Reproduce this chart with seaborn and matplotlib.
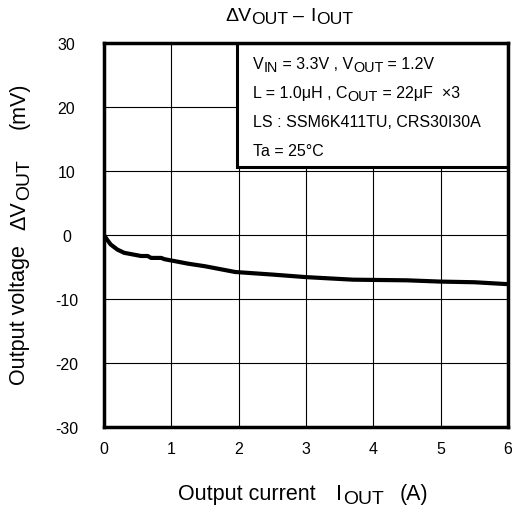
import seaborn as sns
import pandas as pd
import matplotlib
matplotlib.use('Agg')
import matplotlib.pyplot as plt
from matplotlib.patches import Rectangle

# values
current = [0, 0.05, 0.1, 0.2, 0.3, 0.45, 0.55, 0.65, 0.7, 0.85, 0.9,
           1.0, 1.25, 1.5, 1.75, 1.95, 2.5, 3.0, 3.7, 4.5, 5.0, 5.5, 6.0]
dv_out = [0, -0.8, -1.5, -2.3, -2.8, -3.1, -3.3, -3.3, -3.6, -3.6, -3.8,
          -4.0, -4.5, -4.9, -5.4, -5.8, -6.2, -6.6, -7.0, -7.1, -7.3, -7.4, -7.7]

x_ticks = [0, 1, 2, 3, 4, 5, 6]
y_ticks = [-30, -20, -10, 0, 10, 20, 30]

# text pieces: (text, is_subscript, gap before in px)
title_parts = [('ΔV', False, 0), ('OUT', True, 0), ('–', False, 5),
               ('I', False, 6), ('OUT', True, 1)]
xlabel_parts = [('Output current', False, 0), ('I', False, 20),
                ('OUT', True, 1), ('(A)', False, 16)]
ylabel_parts = [('Output voltage', False, 0), ('ΔV', False, 15),
                ('OUT', True, 1), ('(mV)', False, 30)]
cond_lines = [
    [('V', False, 0), ('IN', True, 0), (' = 3.3V , V', False, 0),
     ('OUT', True, 0), (' = 1.2V', False, 0)],
    [('L = 1.0μH , C', False, 0), ('OUT', True, 0),
     (' = 22μF  ×3', False, 0)],
    [('LS : SSM6K411TU, CRS30I30A', False, 0)],
    [('Ta = 25°C', False, 0)],
]

sns.set_theme(style='white')
plt.rcParams['font.family'] = ['Liberation Sans', 'DejaVu Sans']
plt.rcParams['axes.unicode_minus'] = False

fig = plt.figure(figsize=(5.12, 5.10), dpi=100)
ax = fig.add_axes([0.203, 0.161, 0.789, 0.753])


def chain(parts, x0, y0, size, drop, rotate=False, zorder=6):
    """lay text pieces one after the other, subscripts smaller and lowered"""
    prev = None
    for txt, sub, gap in parts:
        fs = size * 0.9 if sub else size
        d = drop if sub else 0
        if rotate:
            if prev is None:
                xy, xyc = (x0, y0), 'figure pixels'
            else:
                xy, xyc = (x0, 1.0), ('figure pixels', prev)
            off = (d, gap)
        else:
            if prev is None:
                xy, xyc = (x0, y0), 'figure pixels'
            else:
                xy, xyc = (1.0, y0), (prev, 'figure pixels')
            off = (gap, -d)
        prev = ax.annotate(txt, xy=xy, xycoords=xyc, xytext=off,
                           textcoords='offset pixels', fontsize=fs,
                           ha='left', va='baseline', color='black',
                           rotation=90 if rotate else 0,
                           rotation_mode='anchor', annotation_clip=False,
                           zorder=zorder)


df = pd.DataFrame({'I': current, 'dV': dv_out})
sns.lineplot(data=df, x='I', y='dV', color='black', lw=3, ax=ax, zorder=3)

ax.set_xlim(0, 6)
ax.set_ylim(-30, 30)
ax.set_xticks(x_ticks)
ax.set_yticks(y_ticks)
ax.grid(True, color='black', lw=0.8)
for sp in ax.spines.values():
    sp.set_color('black')
    sp.set_linewidth(2.5)
    sp.set_zorder(5)

ax.tick_params(axis='x', length=0, pad=10, labelsize=11.5, colors='black')
ax.tick_params(axis='y', length=0, pad=27, labelsize=11.5, colors='black')
for lab in ax.get_yticklabels():
    lab.set_ha('center')

ax.set_xlabel('')
ax.set_ylabel('')

# conditions box
ax.add_patch(Rectangle((1.97, 10.6), 4.03, 19.4, facecolor='white',
                       edgecolor='black', lw=2.2, zorder=4))
for parts, yb in zip(cond_lines, [441, 412, 383, 354]):
    chain(parts, 253, yb, 11.5, 3)

chain(title_parts, 225, 489, 14, 3)
chain(xlabel_parts, 178, 10, 15.5, 4)
chain(ylabel_parts, 25, 125, 15.5, 4, rotate=True)

fig.savefig('out.png', dpi=100, facecolor='white')
